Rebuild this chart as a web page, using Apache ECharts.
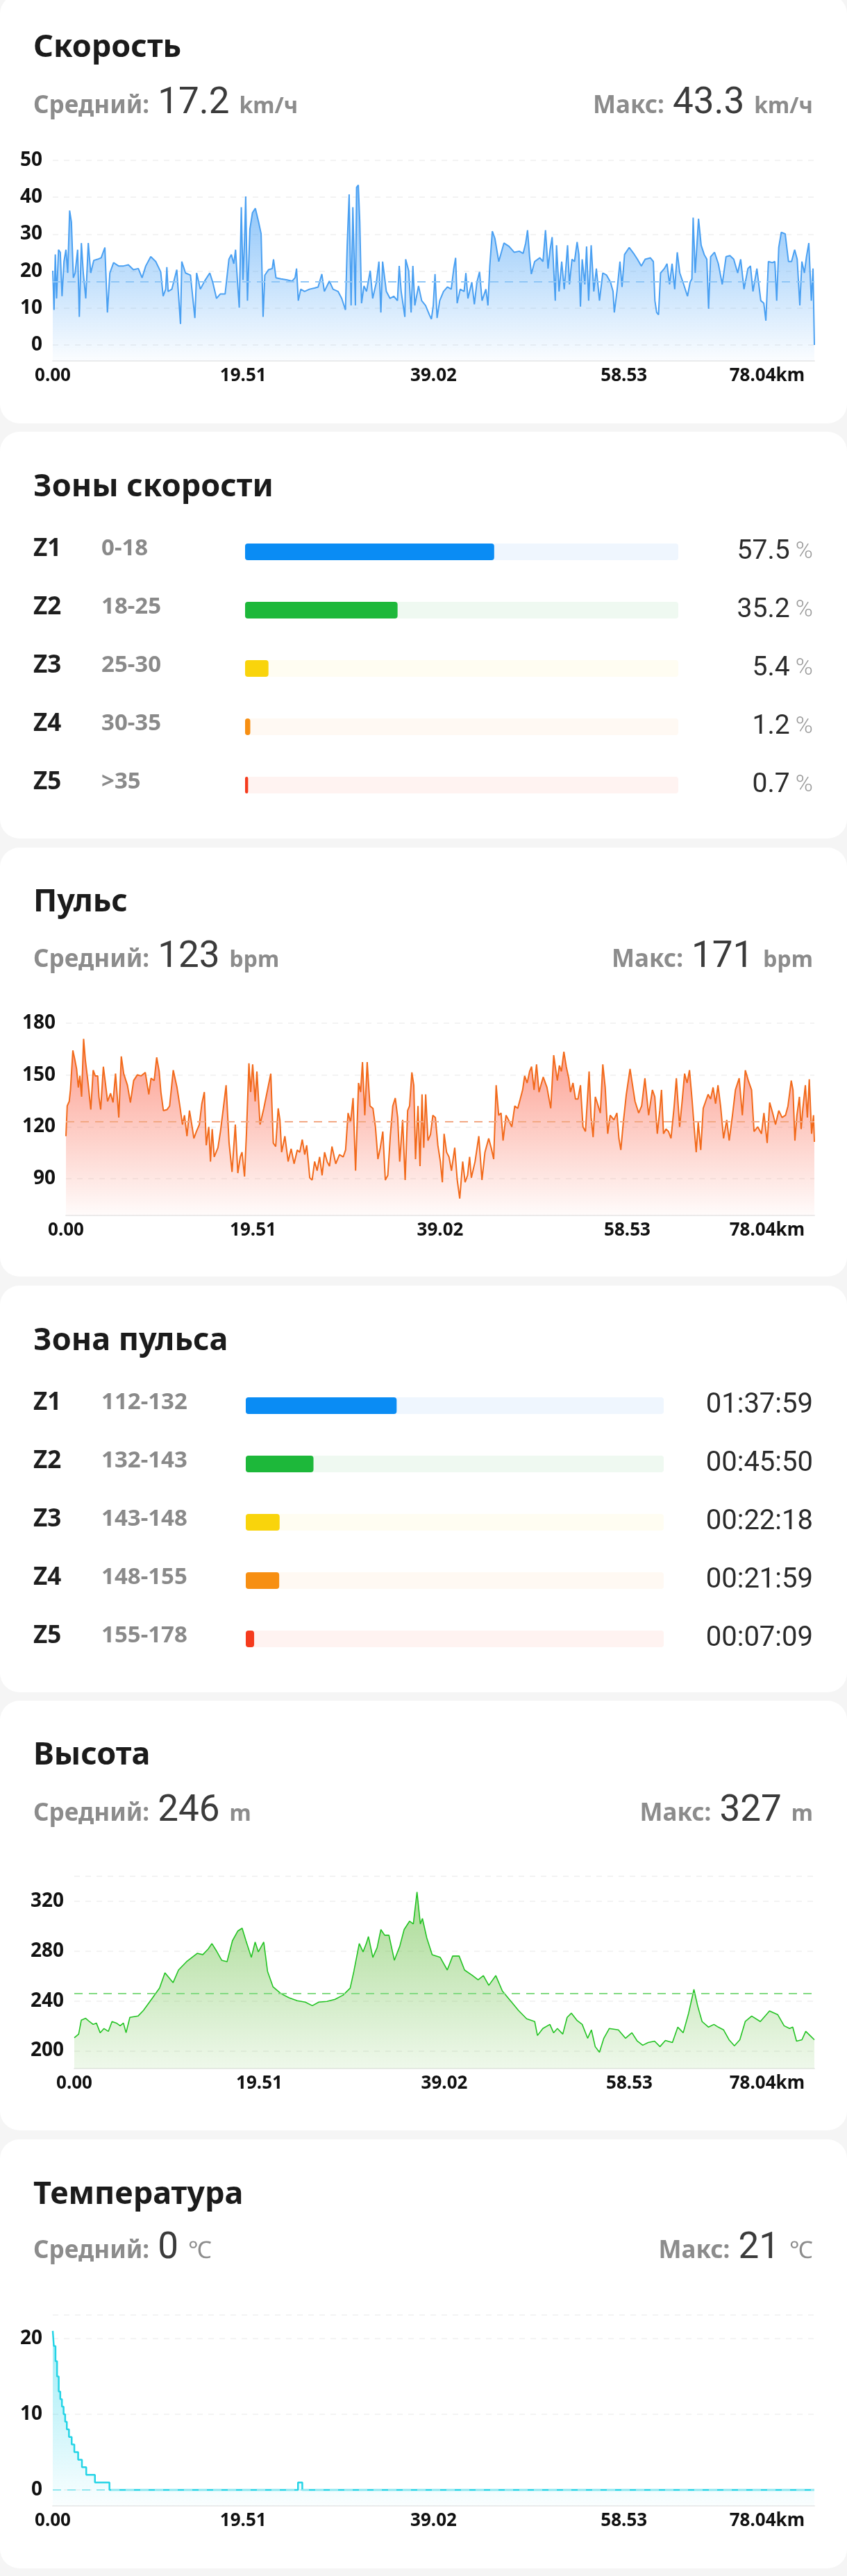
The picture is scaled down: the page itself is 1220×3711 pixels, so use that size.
<!DOCTYPE html>
<html>
<head>
<meta charset="utf-8">
<script src="https://cdn.jsdelivr.net/npm/echarts@6/dist/echarts.min.js"></script>
<style>
html,body{margin:0;padding:0;background:#f5f5f5;}
#page{position:relative;width:1220px;height:3711px;overflow:hidden;background:#f5f5f5;}
.card{position:absolute;left:0;width:1220px;background:#fff;border-radius:28px;}
.title{position:absolute;left:48px;font-family:"Noto Sans",sans-serif;font-weight:700;font-size:45px;line-height:44px;color:#1b1b1b;white-space:nowrap;z-index:3;}
.stat{position:absolute;display:flex;align-items:baseline;white-space:nowrap;line-height:56px;height:56px;z-index:3;}
.stat .lab{font-family:"Noto Sans",sans-serif;font-weight:700;font-size:35px;color:#8c8c8c;margin-right:12px;}
.stat .num{font-family:Roboto,sans-serif;font-size:53px;color:#3b3b3b;}
.stat .unit{font-family:"Noto Sans",sans-serif;font-weight:700;font-size:32px;color:#8c8c8c;margin-left:14px;}
.stat .unit.thin{font-family:Roboto,sans-serif;font-weight:300;font-size:34px;}
#chart{position:absolute;left:0;top:0;width:1220px;height:3711px;z-index:2;}
</style>
</head>
<body>
<div id="page">
  <div class="card" style="top:-8px;height:618px"></div>
  <div class="card" style="top:622px;height:586px"></div>
  <div class="card" style="top:1221px;height:618px"></div>
  <div class="card" style="top:1852px;height:586px"></div>
  <div class="card" style="top:2450px;height:619px"></div>
  <div class="card" style="top:3082px;height:618px"></div>

  <div class="title" style="top:43px">Скорость</div>
  <div class="title" style="top:676px">Зоны скорости</div>
  <div class="title" style="top:1274px">Пульс</div>
  <div class="title" style="top:1906px">Зона пульса</div>
  <div class="title" style="top:2503px">Высота</div>
  <div class="title" style="top:3136px">Температура</div>

  <div id="stats"></div>
  <div id="chart"></div>
</div>
<script>
// ---------- data ----------
const totalKm = 78.04;
const kmStep = 19.51;
const xTickLabels = ['0.00', '19.51', '39.02', '58.53', '78.04km'];

const speedAvg = 17.2, speedMax = 43.3, speedUnit = 'km/ч';
const hrAvg = 123, hrMax = 171, hrUnit = 'bpm';
const altAvg = 246, altMax = 327, altUnit = 'm';
const tempAvg = 0, tempMax = 21, tempUnit = '℃';

const speedData = [
[0.00,20.1],[0.13,9.5],[0.26,24.5],[0.39,12.6],[0.59,25.8],[0.77,25.1],[0.95,13.2],[1.15,22.6],[1.35,25.8],[1.53,19.5],[1.73,36.4],[1.91,33.3],[2.11,18.2],[2.29,19.5],[2.55,25.8],[2.72,7.6],[2.93,27.6],[3.13,19.5],[3.38,12.6],[3.64,27.6],[3.89,19.5],[4.20,22.9],[4.58,23.2],[4.96,23.6],[5.34,26.4],[5.60,8.8],[5.85,19.5],[6.23,22.3],[6.74,21.4],[7.25,21.4],[7.75,21.7],[8.26,20.4],[8.77,20.7],[9.15,18.2],[9.53,21.4],[10.04,23.9],[10.55,22.6],[11.06,19.8],[11.31,13.2],[11.57,15.1],[11.69,21.1],[11.82,14.5],[12.20,15.1],[12.71,20.4],[13.09,5.7],[13.22,22.6],[13.60,19.5],[14.11,18.9],[14.56,7.3],[14.74,19.5],[15.12,15.1],[15.63,17.6],[16.09,19.5],[16.39,17.0],[16.78,12.6],[17.16,13.8],[17.66,13.8],[18.05,23.2],[18.30,24.5],[18.55,22.0],[18.73,25.8],[18.93,17.0],[19.11,10.1],[19.32,37.3],[19.49,17.6],[19.65,28.3],[19.77,40.2],[19.95,12.0],[20.20,31.4],[20.46,35.8],[20.76,37.0],[21.09,33.3],[21.35,30.1],[21.55,7.6],[21.73,18.9],[22.11,20.4],[22.49,20.7],[22.62,23.2],[22.87,18.2],[23.38,17.9],[24.02,17.6],[24.53,17.3],[24.83,18.2],[24.98,20.7],[25.16,12.0],[25.41,15.1],[25.80,14.5],[26.30,15.1],[26.81,15.4],[27.19,15.7],[27.57,19.2],[27.83,14.5],[28.34,17.3],[28.72,15.1],[29.23,14.5],[29.61,12.6],[29.99,9.5],[30.17,27.0],[30.37,40.8],[30.57,10.7],[30.75,37.3],[31.01,10.7],[31.13,42.7],[31.31,43.3],[31.46,33.3],[31.64,11.3],[31.89,16.0],[32.15,14.5],[32.53,20.1],[32.78,12.6],[33.16,17.0],[33.42,22.6],[33.62,8.8],[33.80,22.6],[34.18,14.5],[34.56,12.6],[34.94,13.2],[35.32,12.0],[35.50,21.4],[35.70,14.5],[36.08,7.6],[36.16,23.2],[36.47,20.1],[36.72,8.8],[36.90,21.4],[37.10,10.7],[37.48,16.0],
[37.80,12.0],[38.20,10.7],[38.59,8.2],[38.80,7.0],[38.99,10.7],[39.17,19.2],[39.38,7.3],[39.65,12.0],[40.04,14.5],[40.44,15.7],[40.83,15.1],[41.09,20.7],[41.28,23.6],[41.44,11.3],[41.75,15.1],[42.15,14.5],[42.33,19.5],[42.54,12.6],[42.94,17.0],[43.20,11.0],[43.46,17.0],[43.73,19.8],[43.99,12.0],[44.38,15.1],[44.59,10.7],[44.78,21.4],[45.04,30.8],[45.30,28.9],[45.70,22.6],[46.23,27.6],[46.75,26.7],[47.28,25.1],[47.80,25.4],[48.20,24.8],[48.46,27.6],[48.65,31.1],[48.86,23.9],[49.04,19.2],[49.38,22.6],[49.91,23.6],[50.23,22.6],[50.49,31.1],[50.75,20.7],[50.96,25.8],[51.17,29.2],[51.49,12.0],[51.62,27.0],[51.88,14.5],[52.15,22.6],[52.41,15.1],[52.75,27.0],[52.94,16.4],[53.20,23.2],[53.46,22.6],[53.73,27.9],[53.91,24.5],[54.07,10.4],[54.25,23.2],[54.52,16.4],[54.70,26.7],[54.91,12.0],[55.17,27.0],[55.44,14.5],[55.70,20.7],[56.02,12.0],[56.36,19.5],[56.75,18.9],[57.15,17.0],[57.41,14.5],[57.54,8.8],[57.81,14.5],[58.12,22.6],[58.33,15.7],[58.59,24.5],[59.07,26.4],[59.52,24.8],[59.91,23.2],[60.31,21.4],[60.70,23.2],[61.23,23.6],[61.54,22.6],[61.70,12.0],[61.88,8.8],[62.07,8.2],[62.28,19.5],[62.67,20.7],[62.94,22.0],[63.20,16.4],[63.46,22.0],[63.73,15.1],[63.99,25.1],[64.25,19.5],[64.65,16.4],[65.04,13.2],[65.31,17.0],[65.49,17.9],[65.62,34.5],[65.83,19.5],[66.17,34.2],[66.44,27.0],[66.75,24.5],[67.02,23.2],[67.20,9.8],[67.41,23.9],[67.81,25.1],[68.20,22.0],[68.60,16.4],[68.99,23.9],[69.39,24.2],[69.78,23.2],[70.18,19.5],[70.49,23.2],[70.83,15.1],[71.23,20.7],[71.49,21.4],[71.75,14.5],[72.15,20.7],[72.55,12.0],[72.86,11.3],[73.07,6.6],[73.33,22.6],[73.73,22.3],[73.99,22.6],[74.18,12.0],[74.39,26.4],[74.65,30.5],[75.05,30.1],[75.39,22.6],[75.70,22.6],[76.02,25.8],[76.28,23.2],[76.55,10.7],[76.76,22.6],[77.02,19.5],[77.23,23.9],[77.47,27.6],[77.73,12.0],[77.90,20.7],[78.00,20.7],[78.04,0]
];

const hrData = [
[0.00,114.6],[0.13,132.1],[0.34,134.7],[0.47,141.4],[0.72,164.2],[0.93,158.8],[1.11,153.5],[1.29,142.8],[1.45,149.5],[1.63,137.4],[1.84,170.9],[2.02,158.8],[2.28,146.8],[2.59,130.0],[2.84,152.8],[3.05,149.5],[3.31,149.5],[3.44,137.4],[3.62,130.0],[3.90,154.8],[4.08,146.8],[4.34,134.7],[4.65,139.4],[4.91,134.1],[5.17,150.8],[5.51,125.4],[5.77,160.8],[6.02,150.8],[6.41,144.1],[6.72,134.1],[7.06,146.8],[7.45,150.1],[7.83,149.5],[8.27,151.5],[8.64,138.8],[8.87,148.1],[9.20,146.8],[9.46,160.2],[9.72,152.1],[9.90,140.1],[10.16,129.4],[10.55,130.0],[10.81,132.1],[11.19,152.8],[11.58,142.8],[11.84,133.4],[12.15,121.3],[12.36,126.7],[12.62,114.6],[12.88,129.4],[13.08,122.7],[13.34,113.3],[13.60,117.3],[13.91,121.3],[14.17,133.4],[14.43,140.1],[14.63,109.3],[14.89,120.0],[15.07,99.9],[15.25,118.7],[15.46,102.6],[15.85,107.9],[16.11,117.3],[16.44,132.1],[16.70,144.1],[17.01,110.6],[17.32,93.9],[17.66,121.3],[17.92,93.2],[18.18,102.6],[18.36,105.3],[18.62,91.2],[18.82,116.0],[19.08,156.8],[19.26,140.1],[19.47,156.2],[19.73,134.7],[19.91,152.1],[20.24,121.3],[20.63,130.7],[21.02,141.4],[21.36,150.8],[21.62,110.6],[21.87,108.6],[22.13,130.7],[22.31,124.0],[22.49,105.3],[22.83,114.6],[23.17,99.9],[23.48,107.3],[23.79,98.6],[24.12,106.6],[24.38,105.3],[24.64,112.6],[24.90,103.9],[25.10,109.3],[25.29,98.6],[25.42,90.5],[25.67,89.2],[25.93,99.9],[26.19,94.6],[26.45,102.6],[26.71,91.9],[26.97,105.3],[27.23,99.9],[27.48,97.2],[27.74,108.6],[28.13,98.6],[28.52,103.9],[28.91,102.6],[29.16,106.6],[29.42,128.0],[29.68,122.7],[29.94,136.7],[30.20,94.6],[30.51,145.4],[30.72,140.1],[30.92,157.5],[31.16,126.7],[31.41,157.5],[31.70,132.1],[32.01,130.7],[32.27,120.0],[32.53,101.3],[32.78,107.9],[33.04,117.3],[33.30,89.2],[33.56,91.9],[33.82,114.6],[34.08,132.1],[34.34,136.7],[34.59,125.4],[34.80,99.9],[35.11,124.0],[35.37,89.2],[35.63,129.4],[35.83,132.1],[36.07,151.5],[36.27,144.1],[36.45,101.3],[36.71,132.1],[36.92,97.2],[37.13,138.8],[37.31,107.9],[37.51,138.8],[37.75,112.0],
[38.01,115.6],[38.26,126.7],[38.52,125.4],[38.78,109.3],[39.04,99.9],[39.25,87.9],[39.43,116.0],[39.69,105.3],[39.94,102.6],[40.20,94.6],[40.54,107.9],[40.80,89.2],[41.06,78.5],[41.37,99.9],[41.62,87.9],[41.88,91.9],[42.09,102.6],[42.27,90.5],[42.66,99.9],[43.05,114.6],[43.38,89.2],[43.69,105.3],[44.08,113.3],[44.34,107.9],[44.60,101.3],[44.86,144.1],[45.12,126.7],[45.37,128.0],[45.58,112.0],[45.89,126.7],[46.15,124.0],[46.49,120.0],[46.80,132.1],[47.11,130.7],[47.37,136.1],[47.62,141.4],[47.83,149.5],[48.09,145.4],[48.35,152.1],[48.55,154.8],[48.81,141.4],[49.07,156.2],[49.33,140.1],[49.59,145.4],[49.77,148.8],[50.16,142.8],[50.55,130.7],[50.86,161.5],[51.06,153.5],[51.24,146.8],[51.45,155.5],[51.66,152.1],[51.92,163.5],[52.17,154.8],[52.43,148.1],[52.61,140.1],[52.87,145.4],[53.13,136.1],[53.39,136.1],[53.65,144.1],[53.91,120.0],[54.17,117.3],[54.55,152.1],[54.76,125.4],[54.97,114.0],[55.20,137.4],[55.46,132.8],[55.72,128.0],[55.98,156.2],[56.23,142.8],[56.49,116.0],[56.75,126.7],[57.14,124.0],[57.45,128.0],[57.66,113.3],[57.86,106.6],[58.12,122.7],[58.43,138.8],[58.82,153.5],[59.08,144.1],[59.34,134.7],[59.72,128.0],[60.03,132.1],[60.37,148.1],[60.76,126.7],[61.15,141.4],[61.40,137.4],[61.66,116.0],[61.92,129.4],[62.10,141.4],[62.31,116.0],[62.57,118.7],[62.83,117.3],[63.09,113.3],[63.40,130.7],[63.65,148.1],[63.99,120.0],[64.25,134.7],[64.51,150.8],[64.77,145.4],[65.02,152.8],[65.28,136.1],[65.54,117.3],[65.72,105.3],[65.93,122.7],[66.19,106.6],[66.45,130.7],[66.70,134.7],[66.96,138.8],[67.22,136.1],[67.48,142.8],[67.74,133.4],[67.99,144.1],[68.26,132.1],[68.57,113.3],[68.90,124.0],[69.16,112.0],[69.50,126.7],[69.81,141.4],[70.20,148.1],[70.53,126.7],[70.84,152.8],[71.15,146.8],[71.49,141.4],[71.75,117.3],[72.13,120.0],[72.52,116.0],[72.78,128.0],[73.12,110.6],[73.38,134.1],[73.69,128.0],[73.99,121.3],[74.33,129.4],[74.67,125.4],[75.03,126.7],[75.29,132.1],[75.63,146.8],[75.81,141.4],[76.01,112.0],[76.22,126.7],[76.48,137.4],[76.66,118.7],[76.84,130.7],[77.10,144.1],[77.31,125.4],[77.51,147.5],[77.75,116.0],[77.95,126.7],[78.04,111.3]
];

const altData = [
[0,210.5],[0.46,213.4],[0.74,224.6],[1.20,226.1],[1.59,223.5],[1.99,221.2],[2.33,222.3],[2.73,214.5],[3.13,217.9],[3.59,215.6],[3.98,223.5],[4.44,222.3],[4.84,220.1],[5.18,222.3],[5.46,214.5],[5.86,226.8],[6.72,227.9],[7.29,232.4],[8.14,241.3],[8.99,250.3],[9.56,262.6],[10.42,254.7],[10.99,264.8],[11.84,271.5],[12.41,274.9],[12.98,278.2],[13.55,277.1],[14.12,281.6],[14.51,286.0],[14.97,280.4],[15.54,272.6],[16.11,271.5],[16.68,288.3],[17.25,296.1],[17.70,298.3],[18.10,288.3],[18.67,274.9],[19.07,287.2],[19.41,279.3],[19.98,287.2],[20.38,263.7],[20.95,251.4],[21.80,245.8],[22.65,242.5],[23.51,240.2],[24.36,239.1],[25.10,236.2],[25.78,239.1],[26.64,239.6],[27.49,241.3],[28.35,244.7],[29.09,250.3],[29.48,263.7],[30.05,286.0],[30.45,279.3],[30.79,286.0],[31.02,291.6],[31.48,274.9],[31.93,282.7],[32.33,297.2],[32.73,292.7],[33.18,292.7],[33.75,272.6],[34.32,283.8],[34.78,297.2],[35.35,303.9],[35.75,301.7],[36.14,327.4],[36.49,301.7],[36.71,306.1],[37.17,290.5],[37.74,277.1],[38.59,274.9],[39.33,264.8],[39.90,276.0],[40.58,276.0],[41.15,264.8],[42.01,260.3],[42.58,257.0],[43.14,260.3],[43.71,252.5],[44.45,260.3],[45.14,248.0],[45.99,240.2],[46.84,232.4],[47.70,225.7],[48.55,223.5],[48.84,212.3],[49.41,217.9],[50.15,221.2],[50.54,214.5],[50.94,217.9],[51.51,213.4],[51.97,226.8],[52.42,230.2],[52.99,224.6],[53.56,221.2],[54.13,210.1],[54.53,216.8],[54.93,203.4],[55.38,198.9],[55.84,210.1],[56.41,217.9],[57.37,216.8],[58.12,210.1],[58.80,214.5],[59.37,207.8],[59.94,204.5],[60.51,206.7],[61.19,207.8],[61.76,203.4],[62.33,208.3],[63.07,206.7],[63.64,219.0],[64.21,214.5],[64.78,230.2],[65.34,249.2],[65.74,235.8],[66.20,223.5],[66.88,219.0],[67.45,221.2],[67.91,219.0],[68.47,216.8],[69.04,208.9],[69.61,204.0],[70.18,208.9],[70.75,223.5],[71.43,227.9],[72.34,223.5],[73.31,232.0],[74.17,229.1],[74.85,220.1],[75.42,217.9],[75.76,219.0],[76.16,207.8],[76.73,208.9],[77.13,215.6],[77.58,212.3],[78.04,208.9]
];

const tempData = [
[0,21],[0.11,19],[0.28,17],[0.44,15],[0.61,13],[0.77,12],[0.94,11],[1.11,10],[1.27,9],[1.44,8],[1.66,7],[1.94,6],[2.21,5],[2.60,4],[2.99,3],[3.43,2],[4.32,1],[5.81,0],[25.13,1],[25.57,0],[78.04,0]
];

const zoneIds = ['Z1', 'Z2', 'Z3', 'Z4', 'Z5'];
const speedZoneRanges = ['0-18', '18-25', '25-30', '30-35', '>35'];
const speedZoneShare = [57.5, 35.2, 5.4, 1.2, 0.7];
const hrZoneRanges = ['112-132', '132-143', '143-148', '148-155', '155-178'];
const hrZoneTimes = ['01:37:59', '00:45:50', '00:22:18', '00:21:59', '00:07:09'];
const hrZoneBar = [36.1, 16.2, 8.1, 8.0, 2.0];

const zoneFill = ['#0a8cf4', '#1db83a', '#f9d40c', '#f78f12', '#f53b1d'];
const zoneTrack = ['#eff6fe', '#eff9f1', '#fffdf2', '#fff9f3', '#fff3f1'];

// ---------- stats text ----------
function statRow(top, left, right, label, num, unit, thin) {
  const d = document.createElement('div');
  d.className = 'stat';
  d.style.top = top + 'px';
  if (left != null) d.style.left = left + 'px';
  if (right != null) d.style.right = right + 'px';
  d.innerHTML = '<span class="lab">' + label + '</span><span class="num">' + num +
    '</span><span class="unit' + (thin ? ' thin' : '') + '">' + unit + '</span>';
  document.getElementById('stats').appendChild(d);
}
const statTops = [117, 1347, 2577, 3207];
const statAvg = [speedAvg, hrAvg, altAvg, tempAvg];
const statMax = [speedMax, hrMax, altMax, tempMax];
const statUnit = [speedUnit, hrUnit, altUnit, tempUnit];
statTops.forEach((t, i) => {
  statRow(t, 48, null, 'Средний:', statAvg[i], statUnit[i], i === 3);
  statRow(t, null, 49, 'Макс:', statMax[i], statUnit[i], i === 3);
});

// ---------- chart ----------
const FONT = '"Noto Sans", sans-serif';
const chart = echarts.init(document.getElementById('chart'), null, {renderer: 'canvas'});

function kmAxis(g) {
  return {
    gridIndex: g, type: 'value', min: 0, max: totalKm, interval: kmStep,
    axisLine: {onZero: false, lineStyle: {color: '#ececec', width: 2}},
    axisTick: {show: false}, splitLine: {show: false},
    axisLabel: {
      margin: 9, fontSize: 26, fontFamily: FONT, fontWeight: 'bold', color: '#111',
      alignMaxLabel: 'right',
      formatter: function (v) {
        const i = Math.round(v / kmStep);
        return i === xTickLabels.length - 1 ? '{last|' + xTickLabels[i] + '}' : xTickLabels[i];
      },
      rich: {last: {padding: [0, 14, 0, 0], fontSize: 26, fontFamily: FONT, fontWeight: 'bold', color: '#111'}}
    }
  };
}
function valAxis(g, min, max, step, showMax) {
  return {
    gridIndex: g, type: 'value', min: min, max: max, minInterval: step, maxInterval: step,
    splitNumber: Math.round((max - min) / step),
    axisLine: {show: false}, axisTick: {show: false},
    axisLabel: {margin: 15, fontSize: 28, fontFamily: FONT, fontWeight: 'bold', color: '#111',
      showMinLabel: false, showMaxLabel: showMax},
    splitLine: {show: true, showMinLine: false, lineStyle: {type: [8, 8], color: '#efefef', width: 1.5}}
  };
}
function zoneAxisX(g) {
  return {gridIndex: g, type: 'value', min: 0, max: 100, show: false};
}
function zoneAxisLeft(g, ranges, margin) {
  return {
    gridIndex: g, type: 'category', inverse: true, data: zoneIds, position: 'left',
    axisLine: {show: false}, axisTick: {show: false}, splitLine: {show: false},
    axisLabel: {
      align: 'left', margin: margin,
      formatter: function (v, i) { return '{z|' + v + '}{r|' + ranges[i] + '}'; },
      rich: {
        z: {width: 98, fontSize: 35, fontWeight: 'bold', color: '#1e1e1e', fontFamily: FONT, padding: [0, 0, 8, 0]},
        r: {fontSize: 33, fontWeight: 'bold', color: '#8a8a8a', fontFamily: FONT, padding: [0, 0, 8, 0]}
      }
    }
  };
}
function zoneAxisRight(g, labels, margin, pct) {
  return {
    gridIndex: g, type: 'category', inverse: true, data: zoneIds, position: 'right',
    axisLine: {show: false}, axisTick: {show: false}, splitLine: {show: false},
    axisLabel: {
      align: 'right', margin: margin,
      formatter: function (v, i) { return pct ? '{v|' + labels[i] + '}{p| %}' : '{t|' + labels[i] + '}'; },
      rich: {
        v: {fontSize: 39, fontFamily: 'Roboto', color: '#2b2b2b'},
        p: {fontSize: 34, fontFamily: 'Roboto', fontWeight: 300, color: '#9a9a9a'},
        t: {fontSize: 40, fontFamily: 'Roboto', color: '#2b2b2b'}
      }
    }
  };
}
function lineSeries(xi, yi, data, color, c0, c1, markColor, avg, lw, step) {
  return {
    type: 'line', xAxisIndex: xi, yAxisIndex: yi, data: data, step: step || false,
    showSymbol: false, symbol: 'none', animation: false,
    lineStyle: {color: color, width: lw}, itemStyle: {color: color},
    areaStyle: {origin: 'start', color: new echarts.graphic.LinearGradient(0, 0, 0, 1,
      [{offset: 0, color: c0}, {offset: 1, color: c1}])},
    markLine: {silent: true, symbol: 'none', animation: false, label: {show: false},
      lineStyle: {color: markColor, type: [12, 9], width: 2}, data: [{yAxis: avg}]}
  };
}
function zoneSeries(xi, yi, values) {
  return [
    {type: 'bar', xAxisIndex: xi, yAxisIndex: yi, silent: true, animation: false,
      barWidth: 24, barGap: '-100%', z: 1, itemStyle: {borderRadius: 4},
      data: zoneIds.map((_, i) => ({value: 100, itemStyle: {color: zoneTrack[i]}}))},
    {type: 'bar', xAxisIndex: xi, yAxisIndex: yi, animation: false,
      barWidth: 24, barGap: '-100%', z: 2, itemStyle: {borderRadius: 4},
      data: values.map((v, i) => ({value: v, itemStyle: {color: zoneFill[i]}}))}
  ];
}

const option = {
  backgroundColor: 'transparent',
  animation: false,
  grid: [
    {left: 76, top: 231, width: 1097, height: 289},
    {left: 353, top: 753, width: 624, height: 420},
    {left: 95, top: 1474, width: 1078, height: 277},
    {left: 354, top: 1983, width: 602, height: 420},
    {left: 107, top: 2703, width: 1066, height: 277},
    {left: 76, top: 3335, width: 1097, height: 275}
  ],
  xAxis: [kmAxis(0), zoneAxisX(1), kmAxis(2), zoneAxisX(3), kmAxis(4), kmAxis(5)],
  yAxis: [
    valAxis(0, -4.33, 50, 10, true),
    zoneAxisLeft(1, speedZoneRanges, 305),
    zoneAxisRight(1, speedZoneShare, 194, true),
    valAxis(2, 68.7, 180, 30, true),
    zoneAxisLeft(3, hrZoneRanges, 306),
    zoneAxisRight(3, hrZoneTimes, 215, false),
    valAxis(4, 185.8, 339.9, 40, false),
    valAxis(5, -2.1, 23.1, 10, false)
  ],
  series: [
    lineSeries(0, 0, speedData, '#4aa0f2', 'rgba(60,155,245,0.9)', 'rgba(60,155,245,0.03)', '#8fc6f6', speedAvg, 2),
    ...zoneSeries(1, 1, speedZoneShare),
    lineSeries(2, 3, hrData, '#f26a1b', 'rgba(250,95,70,0.9)', 'rgba(250,95,70,0.03)', '#f2a884', hrAvg, 2),
    ...zoneSeries(3, 4, hrZoneBar),
    lineSeries(4, 6, altData, '#22c322', 'rgba(90,185,50,0.75)', 'rgba(90,185,50,0.14)', '#82da82', altAvg, 1.6),
    lineSeries(5, 7, tempData, '#25d4e6', 'rgba(40,212,235,0.65)', 'rgba(40,212,235,0.03)', '#8fe6ef', tempAvg, 2.5, 'end')
  ]
};
chart.setOption(option);
</script>
</body>
</html>
